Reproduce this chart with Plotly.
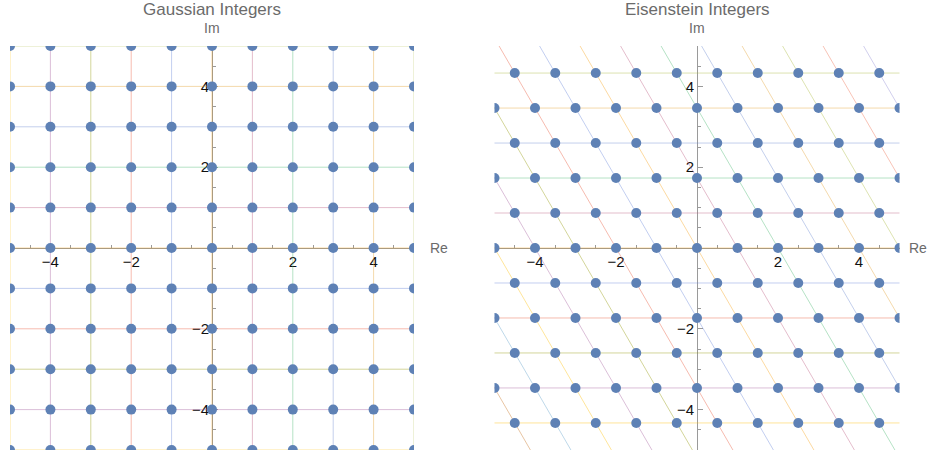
import plotly.graph_objects as go
import numpy as np

# ---- data ----
GAUSS_RE = [-5, -4, -3, -2, -1, 0, 1, 2, 3, 4, 5]
GAUSS_IM = [-5, -4, -3, -2, -1, 0, 1, 2, 3, 4, 5]
EIS_A = [-8, -7, -6, -5, -4, -3, -2, -1, 0, 1, 2, 3, 4, 5, 6, 7, 8]
EIS_B = [-6, -5, -4, -3, -2, -1, 0, 1, 2, 3, 4, 5, 6]
TICK_VALS = [-4, -2, 2, 4]
MINOR_TICKS = [-4.5, -3.5, -3, -2.5, -1.5, -1, -0.5, 0.5, 1, 1.5, 2.5, 3, 3.5, 4.5]
TITLES = ["Gaussian Integers", "Eisenstein Integers"]

# Mathematica-like default palette (index 1..21)
PALETTE = ["#5E81B5", "#E19C24", "#8FB032", "#EB6235", "#8778B3", "#C56E1A", "#5D9EC7",
           "#FFBF00", "#A5609D", "#929600", "#E95536", "#6685D9", "#F89F13", "#BC5B80",
           "#47B66D", "#6A86D0", "#E3A030", "#A9B93C", "#EE6A48", "#8C86D2", "#5E9EC0"]
POINT_COLOR = "#5E81B5"
LINE_ALPHA = 0.4
AXIS_COLOR = "#9a9a9a"
TEXT_GRAY = "#6b6b6b"
FONT = "Liberation Sans, Arial, sans-serif"


def rgba(hexc, a):
    h = hexc.lstrip("#")
    r, g, b = int(h[0:2], 16), int(h[2:4], 16), int(h[4:6], 16)
    return f"rgba({r},{g},{b},{a})"


def color_for(k):
    return rgba(PALETTE[(k + 12) % len(PALETTE)], LINE_ALPHA)


W, H = 931, 460
fig = go.Figure()

# ---------- Gaussian panel ----------
for k in GAUSS_RE:
    fig.add_trace(go.Scatter(x=[k, k], y=[min(GAUSS_IM), max(GAUSS_IM)], mode="lines",
                             line=dict(color=color_for(k), width=1), xaxis="x", yaxis="y",
                             hoverinfo="skip"))
for k in GAUSS_IM:
    fig.add_trace(go.Scatter(x=[min(GAUSS_RE), max(GAUSS_RE)], y=[k, k], mode="lines",
                             line=dict(color=color_for(k), width=1), xaxis="x", yaxis="y",
                             hoverinfo="skip"))
gx, gy = np.meshgrid(GAUSS_RE, GAUSS_IM)
fig.add_trace(go.Scatter(x=gx.ravel(), y=gy.ravel(), mode="markers",
                         marker=dict(size=10, color=POINT_COLOR, line=dict(width=0)),
                         xaxis="x", yaxis="y", cliponaxis=True))

# ---------- Eisenstein panel ----------
s3 = np.sqrt(3) / 2
for b in EIS_B:
    fig.add_trace(go.Scatter(x=[min(EIS_A) - b / 2, max(EIS_A) - b / 2], y=[b * s3, b * s3],
                             mode="lines", line=dict(color=color_for(b), width=1),
                             xaxis="x2", yaxis="y2", hoverinfo="skip"))
bmin, bmax = min(EIS_B) - 1, max(EIS_B) + 1
for a in EIS_A:
    fig.add_trace(go.Scatter(x=[a - bmin / 2, a - bmax / 2], y=[bmin * s3, bmax * s3],
                             mode="lines", line=dict(color=color_for(a), width=1),
                             xaxis="x2", yaxis="y2", hoverinfo="skip"))
ea, eb = np.meshgrid(EIS_A, EIS_B)
fig.add_trace(go.Scatter(x=(ea - eb / 2).ravel(), y=(eb * s3).ravel(), mode="markers",
                         marker=dict(size=10, color=POINT_COLOR, line=dict(width=0)),
                         xaxis="x2", yaxis="y2", cliponaxis=True))

# ---------- layout ----------
top_px, bot_px = 46, 450
ydom = [1 - bot_px / H, 1 - top_px / H]
panels = [(10, 414), (494.5, 899.5)]
re_label_px = [428, 907]


def xaxis_cfg(dom):
    return dict(domain=[dom[0] / W, dom[1] / W], range=[-5, 5], anchor="free",
                position=(ydom[0] + ydom[1]) / 2, showline=True, linecolor=AXIS_COLOR,
                linewidth=1, ticks="inside", ticklen=5, tickcolor=AXIS_COLOR,
                tickmode="array", tickvals=TICK_VALS, showgrid=False, zeroline=False,
                tickfont=dict(size=15, color="#111", family=FONT), layer="below traces",
                minor=dict(tickmode="array", tickvals=MINOR_TICKS, ticks="inside", ticklen=3,
                           tickcolor=AXIS_COLOR),
                fixedrange=True)


def yaxis_cfg(dom):
    return dict(domain=ydom, range=[-5, 5], anchor="free",
                position=(dom[0] + dom[1]) / 2 / W, showline=True, linecolor=AXIS_COLOR,
                linewidth=1, ticks="inside", ticklen=5, tickcolor=AXIS_COLOR,
                tickmode="array", tickvals=TICK_VALS, showgrid=False, zeroline=False,
                tickfont=dict(size=15, color="#111", family=FONT), layer="below traces",
                minor=dict(tickmode="array", tickvals=MINOR_TICKS, ticks="inside", ticklen=3,
                           tickcolor=AXIS_COLOR),
                fixedrange=True)


annotations = []
for (d0, d1), title, rx in zip(panels, TITLES, re_label_px):
    cx = (d0 + d1) / 2 / W
    annotations.append(dict(text=title, x=cx, y=1 - 10 / H, xref="paper", yref="paper",
                            showarrow=False, xanchor="center", yanchor="middle",
                            font=dict(size=17, color=TEXT_GRAY, family=FONT)))
    annotations.append(dict(text="Im", x=cx, y=1 - 28 / H, xref="paper", yref="paper",
                            showarrow=False, xanchor="center", yanchor="middle",
                            font=dict(size=14, color=TEXT_GRAY, family=FONT)))
    annotations.append(dict(text="Re", x=rx / W, y=(ydom[0] + ydom[1]) / 2,
                            xref="paper", yref="paper", showarrow=False, xanchor="left",
                            yanchor="middle", font=dict(size=14, color=TEXT_GRAY, family=FONT)))

fig.update_layout(
    width=W, height=H, margin=dict(l=0, r=0, t=0, b=0),
    paper_bgcolor="white", plot_bgcolor="white", showlegend=False,
    font=dict(family=FONT),
    xaxis=xaxis_cfg(panels[0]), yaxis=yaxis_cfg(panels[0]),
    xaxis2=xaxis_cfg(panels[1]), yaxis2=yaxis_cfg(panels[1]),
    annotations=annotations,
)

fig.write_html("out.html", config={"displayModeBar": False},
               post_script="document.body.style.margin='0px';")
